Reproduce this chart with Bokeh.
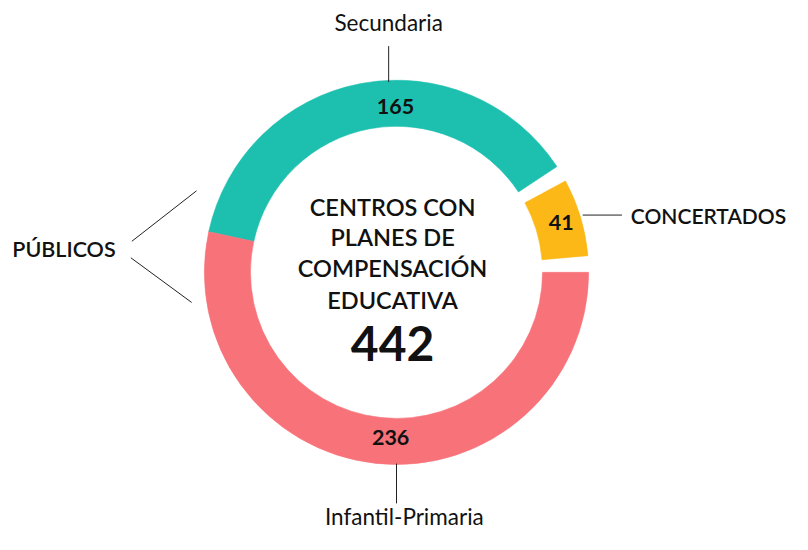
import numpy as np
from bokeh.plotting import figure
from bokeh.models import Range1d, ColumnDataSource
from bokeh.core.properties import value
from bokeh.embed import file_html
from bokeh.resources import INLINE

# ---- data (counter-clockwise from east) ----
categories = ["Concertados", "Secundaria", "Infantil-Primaria"]
values = [41, 165, 236]
colors = ["#FBB817", "#1DC0AF", "#F8727A"]
total_label = "442"
center_lines = ["CENTROS CON", "PLANES DE", "COMPENSACIÓN", "EDUCATIVA"]
group_label = "PÚBLICOS"
concert_label = "CONCERTADOS"

# ---- geometry (reference-pixel-like data units; y up) ----
W, H = 792, 534
CX, CY = 404, 270
R_IN, R_OUT = 149, 196
GAP = 15  # white gap around the separated slice
SY = H / 550.0

p = figure(width=W, height=H, x_range=Range1d(0, 808), y_range=Range1d(0, 550),
           output_backend="svg", toolbar_location=None, min_border=0)
p.axis.visible = False
p.grid.visible = False
p.outline_line_color = None
p.background_fill_color = "white"
p.border_fill_color = "white"

total = sum(values)
cum = np.cumsum([0] + values) / total * 2 * np.pi
starts = list(cum[:-1])
ends = list(cum[1:])
pad = GAP / ((R_IN + R_OUT) / 2)
starts[0] += pad
ends[0] -= pad

src = ColumnDataSource(dict(start=starts, end=ends, color=colors))
p.annular_wedge(x=CX, y=CY, inner_radius=R_IN, outer_radius=R_OUT,
                start_angle="start", end_angle="end", fill_color="color",
                line_color="color", line_width=0.6, source=src)

def Y(py):
    return 550 - py

def TY(py, fs):
    # baseline position, corrected for the renderer's baseline offset
    return 550 - py + 0.40 * fs / SY

font = value("Lato")
semi = value("'Lato Semibold', Lato")
ink = "#111111"

# leader lines
p.segment(x0=[396, 404, 594, 134, 133], y0=[Y(47), Y(477), Y(221), Y(248), Y(265)],
          x1=[396, 404, 634, 200, 195], y1=[Y(84), Y(518), Y(221), Y(196), Y(311)],
          line_color="#222222", line_width=1)

# outer labels
fs = 22.5
p.text(x=[396, 412], y=[TY(32, fs), TY(541, fs)], text=[categories[1], categories[2]],
       text_font=font, text_font_size=f"{fs}px", text_align="center",
       text_baseline="alphabetic", text_color=ink)
fs = 21
p.text(x=[643], y=[TY(230, fs)], text=[concert_label], text_font=semi, text_font_size=f"{fs}px",
       text_align="left", text_baseline="alphabetic", text_color=ink)
fs = 21.5
p.text(x=[12], y=[TY(265, fs)], text=[group_label], text_font=semi, text_font_size=f"{fs}px",
       text_align="left", text_baseline="alphabetic", text_color=ink)

# values on the ring
fs = 21.5
p.text(x=[572, 403, 398], y=[TY(237, fs), TY(118, fs), TY(459, fs)],
       text=[str(v) for v in values],
       text_font=font, text_font_style="bold", text_font_size=f"{fs}px", text_align="center",
       text_baseline="alphabetic", text_color=ink)

# centre title
fs = 23.5
p.text(x=[400] * 4, y=[TY(222, fs), TY(253, fs), TY(285, fs), TY(318, fs)], text=center_lines,
       text_font=semi, text_font_size=f"{fs}px", text_align="center",
       text_baseline="alphabetic", text_color=ink)
fs = 48
p.text(x=[400], y=[TY(373, fs)], text=[total_label], text_font=font, text_font_style="bold",
       text_font_size=f"{fs}px", text_align="center", text_baseline="alphabetic", text_color=ink)

open("out.html", "w").write(file_html(p, INLINE))
